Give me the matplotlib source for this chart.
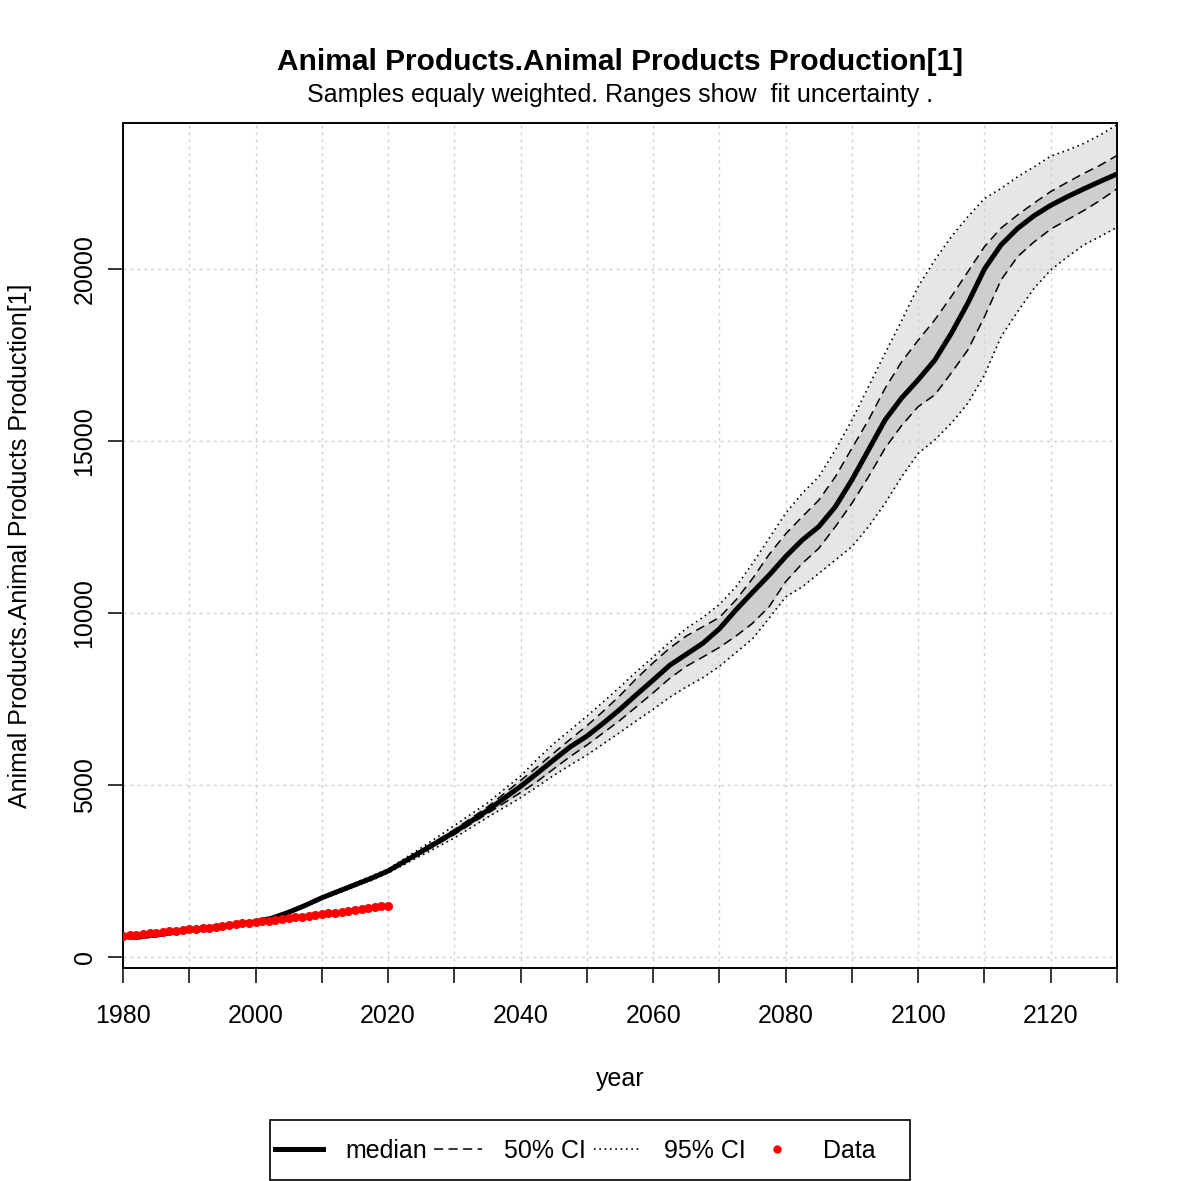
import matplotlib
matplotlib.use("Agg")
import matplotlib.pyplot as plt
from matplotlib.lines import Line2D
from matplotlib.patches import Rectangle

plt.rcParams["font.family"] = ["Liberation Sans", "DejaVu Sans"]

TITLE = "Animal Products.Animal Products Production[1]"
SUBTITLE = "Samples equaly weighted. Ranges show  fit uncertainty ."
YLABEL = "Animal Products.Animal Products Production[1]"

# simulated run: median and uncertainty ranges
years = [1980, 1982, 1985, 1990, 1995, 2000, 2002.5, 2005, 2007.5, 2010,
         2012.5, 2015, 2017.5, 2020, 2025, 2030, 2035,
         2040, 2042.5, 2045, 2047.5, 2050, 2052.5, 2055, 2057.5, 2060,
         2062.5, 2065, 2067.5, 2070, 2072.5, 2075, 2077.5, 2080,
         2082.5, 2085, 2087.5, 2090, 2092.5, 2095, 2097.5, 2100,
         2102.5, 2105, 2107.5, 2110, 2112.5, 2115, 2117.5, 2120,
         2122.5, 2125, 2127.5, 2130]
median = [590, 570, 640, 780, 900, 1020, 1130, 1300, 1500, 1720,
          1910, 2100, 2290, 2500, 3060, 3630, 4260,
          4960, 5340, 5730, 6110, 6420, 6800, 7200, 7630, 8050,
          8480, 8800, 9120, 9540, 10090, 10600, 11100, 11640,
          12120, 12510, 13090, 13870, 14740, 15610, 16250, 16780,
          17350, 18130, 19010, 20000, 20700, 21180, 21550, 21850,
          22100, 22330, 22550, 22760]
ci50_hi = [595, 575, 645, 785, 905, 1028, 1140, 1312, 1515, 1738,
           1932, 2125, 2320, 2530, 3110, 3700, 4360,
           5130, 5520, 5930, 6330, 6720, 7150, 7600, 8100, 8550,
           8980, 9330, 9600, 9870, 10380, 11000, 11700, 12300,
           12800, 13280, 13960, 14790, 15610, 16530, 17300, 17930,
           18520, 19200, 19920, 20650, 21190, 21570, 21920, 22250,
           22520, 22780, 23020, 23300]
ci50_lo = [585, 565, 635, 775, 895, 1012, 1120, 1288, 1485, 1702,
           1888, 2075, 2260, 2470, 3010, 3560, 4170,
           4780, 5100, 5470, 5830, 6160, 6520, 6880, 7280, 7680,
           8100, 8450, 8720, 9000, 9330, 9700, 10180, 10910,
           11440, 11880, 12510, 13190, 13960, 14790, 15450, 16000,
           16340, 16980, 17650, 18610, 19680, 20360, 20790, 21160,
           21430, 21700, 22000, 22330]
ci95_hi = [600, 580, 650, 790, 910, 1035, 1150, 1325, 1530, 1760,
           1958, 2155, 2355, 2560, 3170, 3820, 4480,
           5260, 5750, 6200, 6600, 7000, 7420, 7850, 8300, 8720,
           9150, 9550, 9870, 10250, 10760, 11440, 12170, 12900,
           13480, 13960, 14740, 15610, 16580, 17550, 18500, 19490,
           20260, 20940, 21520, 22050, 22340, 22680, 22970, 23280,
           23450, 23650, 23900, 24190]
ci95_lo = [580, 560, 630, 770, 890, 1005, 1110, 1275, 1470, 1680,
           1860, 2045, 2225, 2440, 2950, 3460, 4060,
           4630, 4950, 5280, 5580, 5870, 6200, 6530, 6870, 7200,
           7550, 7850, 8120, 8450, 8850, 9250, 9850, 10470,
           10760, 11150, 11540, 11930, 12510, 13190, 13960, 14640,
           15030, 15520, 16100, 16920, 18030, 18760, 19440, 19970,
           20350, 20700, 20950, 21210]

# observed data, yearly 1980-2020
data_years = list(range(1980, 2021))
data_values = [620, 630, 650, 670, 690, 710, 730, 750, 770, 785,
               800, 815, 835, 855, 880, 905, 925, 950, 975, 995,
               1010, 1035, 1055, 1080, 1100, 1120, 1150, 1175, 1200, 1220,
               1240, 1265, 1290, 1310, 1335, 1360, 1390, 1420, 1450, 1480,
               1495]

x_ticks = list(range(1980, 2131, 10))
x_ticklabels = [str(y) if (y - 1980) % 20 == 0 else "" for y in x_ticks]
y_ticks = [0, 5000, 10000, 15000, 20000]

DASHED = (0, (6, 3.5))
DOTTED = (0, (1, 2.2))

W = H = 1181
fig = plt.figure(figsize=(W / 100, H / 100), dpi=100)
ax = fig.add_axes([123 / W, 1 - 968 / H, (1117 - 123) / W, (968 - 123) / H])

ax.fill_between(years, ci95_lo, ci95_hi, color="#e6e6e6", lw=0, zorder=0.2)
ax.fill_between(years, ci50_lo, ci50_hi, color="#cecece", lw=0, zorder=0.3)
ax.plot(years, ci95_hi, color="black", lw=1.2, ls=DOTTED)
ax.plot(years, ci95_lo, color="black", lw=1.2, ls=DOTTED)
ax.plot(years, ci50_hi, color="black", lw=1.1, ls=DASHED)
ax.plot(years, ci50_lo, color="black", lw=1.1, ls=DASHED)
ax.plot(years, median, color="black", lw=3.6, solid_joinstyle="round")
ax.plot(data_years, data_values, "o", color="#ff0000", ms=6.5, mec="none", zorder=3)

ax.set_xlim(1980, 2130)
ax.set_ylim(-320, 24244)
ax.set_axisbelow(True)
ax.grid(True, color="#cfcfcf", lw=1.0, ls=(0, (2, 3)))
for gl in ax.get_xgridlines() + ax.get_ygridlines():
    gl.set_zorder(0.5)

ax.set_xticks(x_ticks)
ax.set_xticklabels(x_ticklabels)
ax.set_yticks(y_ticks)
ax.set_yticklabels([str(v) for v in y_ticks], rotation=90, va="center")
ax.tick_params(axis="both", length=11, width=1.1, labelsize=18, direction="out")
ax.tick_params(axis="x", pad=15)
ax.tick_params(axis="y", pad=8)
for s in ax.spines.values():
    s.set_linewidth(1.4)

ax.set_xlabel("year", fontsize=18, labelpad=28)
ax.set_ylabel(YLABEL, fontsize=18, labelpad=29)

fig.text(620 / W, 1 - 62 / H, TITLE, fontsize=21.5, fontweight="bold",
         ha="center", va="center")
fig.text(620 / W, 1 - 95 / H, SUBTITLE, fontsize=18, ha="center", va="center")

# legend: content without frame, box drawn separately (R-style padding)
handles = [
    Line2D([], [], color="black", lw=3.6),
    Line2D([], [], color="black", lw=1.1, ls=DASHED),
    Line2D([], [], color="black", lw=1.2, ls=DOTTED),
    Line2D([], [], color="#ff0000", marker="o", ls="none", ms=6, mec="none"),
]
labels = ["median", "50% CI", "95% CI", "Data"]
fig.legend(handles, labels, loc="center left", ncol=4,
           bbox_to_anchor=(275 / W, 1 - 1151 / H), fontsize=18,
           frameon=False, handlelength=1.9, handletextpad=0.9,
           columnspacing=0.3, borderpad=0, borderaxespad=0)
fig.patches.append(Rectangle((270 / W, 1 - 1180 / H), 640 / W, 60 / H,
                             transform=fig.transFigure, fill=False,
                             edgecolor="black", lw=1.2))

fig.savefig("out.png", dpi=100)
